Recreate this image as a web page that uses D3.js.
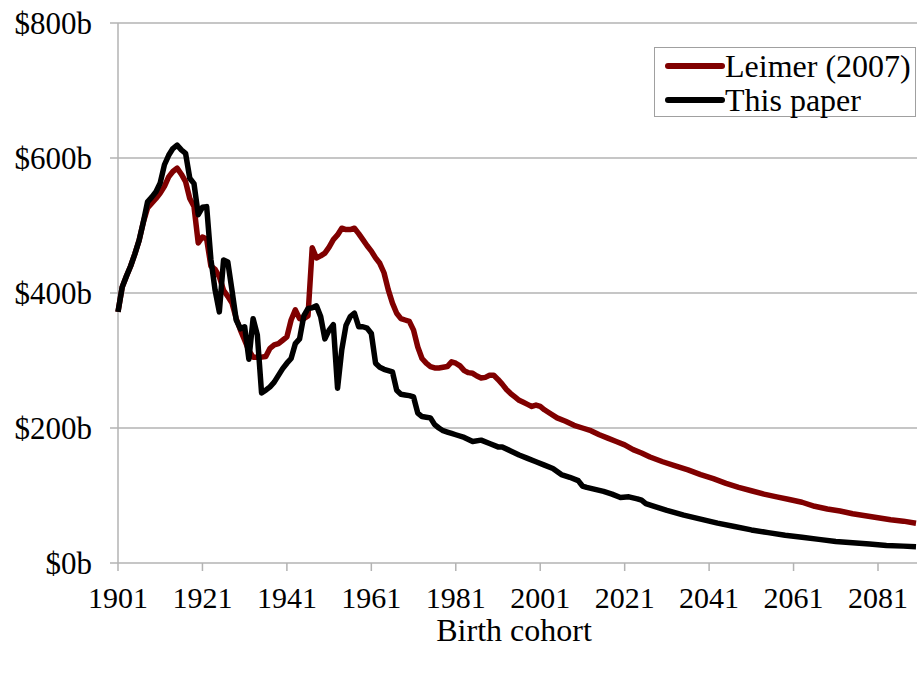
<!DOCTYPE html>
<html>
<head>
<meta charset="utf-8">
<script src="https://cdn.jsdelivr.net/npm/d3@7"></script>
<style>
  body { margin: 0; background: #fff; }
  svg { display: block; }
</style>
</head>
<body>
<div id="chart"></div>
<script>
// canvas size
var width = 917,
    height = 673;

// plot area
var margin = { top: 23, right: 1, bottom: 110, left: 118 };

var fontFamily = "'Liberation Serif', 'Times New Roman', Times, 'DejaVu Serif', serif";

// tick labels
var xTicks = [1901, 1921, 1941, 1961, 1981, 2001, 2021, 2041, 2061, 2081];
var yTicks = [0, 200, 400, 600, 800];

// Leimer (2007) series, $ billions by birth cohort
var leimerYears = [1901, 1902, 1903, 1904, 1905, 1906, 1907, 1908, 1909, 1910,
  1911, 1912, 1913, 1914, 1915, 1916, 1917, 1918, 1919, 1920,
  1921, 1922, 1923, 1924, 1925, 1926, 1927, 1928, 1929, 1930,
  1931, 1932, 1933, 1934, 1935, 1936, 1937, 1938, 1939, 1940,
  1941, 1942, 1943, 1944, 1945, 1946, 1947, 1948, 1949, 1950,
  1951, 1952, 1953, 1954, 1955, 1956, 1957, 1958, 1959, 1960,
  1961, 1962, 1963, 1964, 1965, 1966, 1967, 1968, 1969, 1970,
  1971, 1972, 1973, 1974, 1975, 1976, 1977, 1978, 1979, 1980,
  1981, 1982, 1983, 1984, 1985, 1986, 1987, 1988, 1989, 1990,
  1991, 1992, 1993, 1994, 1995, 1996, 1997, 1998, 1999, 2000,
  2001, 2002, 2003, 2005, 2007, 2009, 2011, 2013, 2015, 2017,
  2019, 2021, 2023, 2025, 2027, 2030, 2033, 2036, 2039, 2042,
  2045, 2048, 2051, 2054, 2057, 2060, 2063, 2066, 2069, 2072,
  2075, 2078, 2081, 2084, 2087, 2090];
var leimerValues = [372, 409, 425, 440, 458, 478, 505, 526, 533, 540,
  548, 558, 572, 580, 585, 576, 565, 540, 528, 474,
  483, 480, 440, 435, 424, 404, 395, 385, 362, 345,
  330, 315, 305, 305, 305, 306, 318, 323, 325, 330,
  335, 360, 375, 362, 362, 366, 467, 452, 455, 459,
  468, 479, 486, 496, 494, 494, 496, 488, 479, 470,
  462, 452, 444, 430, 405, 385, 370, 362, 360, 358,
  345, 320, 303, 296, 291, 289, 289, 290, 291, 298,
  296, 292, 285, 282, 281, 277, 274, 275, 278, 278,
  272, 265, 257, 251, 246, 241, 238, 235, 232, 234,
  232, 227, 223, 215, 210, 204, 200, 196, 190, 185,
  180, 175, 168, 163, 157, 150, 144, 138, 131, 125,
  118, 112, 107, 102, 98, 94, 90, 84, 80, 77,
  73, 70, 67, 64, 62, 59];

// This paper series, $ billions by birth cohort
var paperYears = [1901, 1902, 1903, 1904, 1905, 1906, 1907, 1908, 1909, 1910,
  1911, 1912, 1913, 1914, 1915, 1916, 1917, 1918, 1919, 1920,
  1921, 1922, 1923, 1924, 1925, 1926, 1927, 1928, 1929, 1930,
  1931, 1932, 1933, 1934, 1935, 1936, 1937, 1938, 1939, 1940,
  1941, 1942, 1943, 1944, 1945, 1946, 1947, 1948, 1949, 1950,
  1951, 1952, 1953, 1954, 1955, 1956, 1957, 1958, 1959, 1960,
  1961, 1962, 1963, 1964, 1965, 1966, 1967, 1968, 1969, 1970,
  1971, 1972, 1973, 1974, 1975, 1976, 1977, 1978, 1979, 1980,
  1981, 1983, 1985, 1987, 1989, 1991, 1992, 1994, 1996, 1998,
  2000, 2002, 2004, 2006, 2008, 2010, 2011, 2012, 2014, 2016,
  2018, 2020, 2022, 2024, 2025, 2026, 2028, 2031, 2035, 2039,
  2043, 2047, 2051, 2055, 2059, 2063, 2067, 2071, 2075, 2079,
  2083, 2087, 2090];
var paperValues = [372, 409, 425, 440, 458, 478, 505, 535, 542, 550,
  563, 590, 604, 614, 619, 612, 607, 570, 562, 516,
  527, 528, 450, 404, 372, 449, 446, 404, 360, 347,
  350, 302, 362, 338, 252, 256, 261, 268, 278, 288,
  296, 303, 325, 332, 366, 377, 378, 381, 365, 332,
  345, 353, 259, 316, 352, 365, 370, 350, 350, 348,
  340, 296, 290, 287, 285, 283, 256, 250, 249, 248,
  246, 222, 217, 216, 215, 205, 200, 196, 194, 192,
  190, 186, 180, 182, 177, 172, 172, 166, 160, 155,
  150, 145, 140, 131, 127, 122, 114, 112, 109, 106,
  102, 97, 98, 95, 93, 88, 84, 78, 71, 65,
  59, 54, 49, 45, 41, 38, 35, 32, 30, 28,
  26, 25, 24];

var seriesNames = ["Leimer (2007)", "This paper"];
var seriesColors = ["#800000", "#000000"];

var gridColor = "#b3b3b3";

var svg = d3.select("#chart")
  .append("svg")
  .attr("width", width)
  .attr("height", height)
  .attr("font-family", fontFamily)
  .style("font-family", fontFamily);

var x = d3.scaleLinear()
  .domain([1901, 2090])
  .range([margin.left, width - margin.right]);

var y = d3.scaleLinear()
  .domain([0, 800])
  .range([height - margin.bottom, margin.top]);

// horizontal gridlines
svg.append("g")
  .selectAll("line")
  .data(yTicks)
  .enter().append("line")
  .attr("x1", margin.left - 8)
  .attr("x2", width)
  .attr("y1", function(d) { return y(d); })
  .attr("y2", function(d) { return y(d); })
  .attr("stroke", gridColor)
  .attr("stroke-width", 1.5);

// y axis line + labels
svg.append("line")
  .attr("x1", margin.left).attr("x2", margin.left)
  .attr("y1", y(800)).attr("y2", y(0))
  .attr("stroke", gridColor)
  .attr("stroke-width", 1.5);

svg.append("g")
  .selectAll("text")
  .data(yTicks)
  .enter().append("text")
  .attr("x", 92)
  .attr("y", function(d) { return y(d); })
  .attr("dy", "0.34em")
  .attr("text-anchor", "end")
  .style("font-family", fontFamily)
  .style("font-size", "31px")
  .text(function(d) { return "$" + d + "b"; });

// x axis ticks + labels
var xAxis = svg.append("g");
xAxis.selectAll("line")
  .data(xTicks)
  .enter().append("line")
  .attr("x1", function(d) { return x(d); })
  .attr("x2", function(d) { return x(d); })
  .attr("y1", y(0))
  .attr("y2", y(0) + 8)
  .attr("stroke", gridColor)
  .attr("stroke-width", 1.5);

xAxis.selectAll("text")
  .data(xTicks)
  .enter().append("text")
  .attr("x", function(d) { return x(d); })
  .attr("y", 608)
  .attr("text-anchor", "middle")
  .style("font-family", fontFamily)
  .style("font-size", "30px")
  .text(function(d) { return d; });

svg.append("text")
  .attr("x", 514)
  .attr("y", 641)
  .attr("text-anchor", "middle")
  .style("font-family", fontFamily)
  .style("font-size", "32px")
  .text("Birth cohort");

// lines
var line = d3.line()
  .x(function(d) { return x(d[0]); })
  .y(function(d) { return y(d[1]); });

var leimerData = leimerYears.map(function(yr, i) { return [yr, leimerValues[i]]; });
var paperData = paperYears.map(function(yr, i) { return [yr, paperValues[i]]; });

[leimerData, paperData].forEach(function(data, i) {
  svg.append("path")
    .datum(data)
    .attr("fill", "none")
    .attr("stroke", seriesColors[i])
    .attr("stroke-width", 5.5)
    .attr("stroke-linejoin", "round")
    .attr("d", line);
});

// legend
var legend = svg.append("g");
legend.append("rect")
  .attr("x", 654.5).attr("y", 47.5)
  .attr("width", 261).attr("height", 69)
  .attr("fill", "#fff")
  .attr("stroke", "#a0a0a0")
  .attr("stroke-width", 1);

seriesNames.forEach(function(name, i) {
  var ly = 66 + i * 34;
  legend.append("line")
    .attr("x1", 668).attr("x2", 722)
    .attr("y1", ly).attr("y2", ly)
    .attr("stroke", seriesColors[i])
    .attr("stroke-width", 6)
    .attr("stroke-linecap", "round");
  legend.append("text")
    .attr("x", 725)
    .attr("y", ly)
    .attr("dy", "0.34em")
    .style("font-family", fontFamily)
    .style("font-size", "32px")
    .text(name);
});
</script>
</body>
</html>
